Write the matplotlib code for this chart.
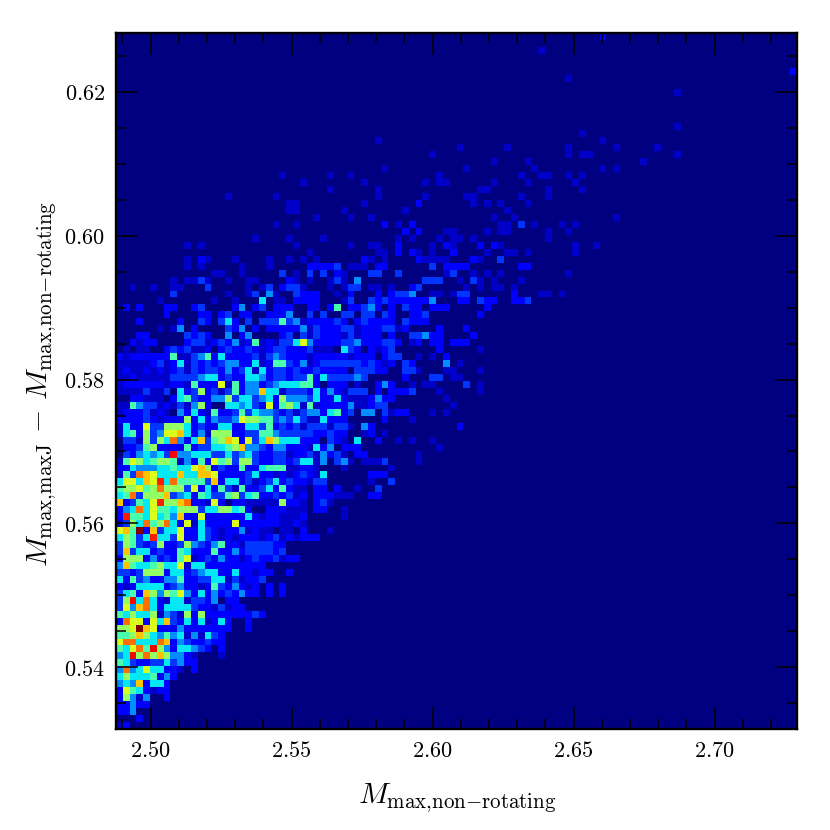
#!/usr/bin/env python3

import numpy as np
import matplotlib
matplotlib.use('Agg')
import matplotlib.pyplot as plt
from matplotlib.colors import ListedColormap
from matplotlib.ticker import MultipleLocator, FormatStrFormatter

plt.rcParams['mathtext.fontset'] = 'cm'
plt.rcParams['font.family'] = ['DejaVu Serif']

# ==============================================================================
# Levels per cell. One hex digit per cell (0 to e),
# spaces are only there to keep the columns readable
# rows_left: columns 0-27, rows_right: columns 28 and up, first entry = row 0
# ==============================================================================
rows_left = [
    "12", "0002", "224", "22422", "27414002", "28652122", "45492552",
    "575556242", "4a4585522102", "653223353422", "45c7a79744210001",
    "658a6c7425543202", "8aa555a924322322", "6679754645141532",
    "778e98 2224 2222222 00 2", "2a882859 3252 5125 2002",
    "65755714 3172 7222 2222 32", "3849a525 5553 2213 122",
    "37c5a521 5513 3240 22", "35629747 6842 5242 3242 2020 2",
    "21255552 3422 1263 2421 2020 2", "52634224 4622 3355 1312 23",
    "33237772 5523 4552 2522 1220 02", "49655675 5815 5222 2222 22",
    "27772423 2681 2324 2212 3223 122", "39355232 2652 2262 2423 3332 3",
    "37632372 2374 3246 2213 3332 2", "57635b55 3822 5321 2122 2123 1212",
    "896e2935 5822 5321 2241 2110 1102", "1375a67a 5281 5222 2822 2222 1121",
    "2b665856 4922 8222 2225 2122 1112", "245a5866 5777 3557 7562 0022 2111",
    "923658b7 79a2 2182 0221 1111 7221", "56a37779 3452 6533 6735 6223 2312",
    "677867a7 7738 2526 3162 2352 6211", "588598b5 a666 6392 5523 1235 2322",
    "163a9855 5955 9982 2223 5221 2123", "22544455 6558 9723 2262 2566 6112",
    "16875677 6142 6286 7377 3223 3235", "03245453 c445 5533 5345 3223 3122",
    "02236722 2262 3355 6794 4324 4222", "03317375 a425 9367 9828 3597 5552",
    "15627348 8952 4177 7223 3664 3333", "15228337 7752 3225 5225 5362 3231",
    "22223212 2272 5243 3487 7663 4353", "12223121 0425 2162 2363 5443 2313",
    "11643312 1314 7200 5545 3282 6751", "00221110 2563 2244 7355 3452 7444",
    "11113113 0523 7231 3624 4955 1333", "12222221 2216 2228 1624 4234 5556",
    "11211111 3333 4552 3225 5423 3233", "12112121 2313 2332 4235 1523 3232",
    "11111231 2513 2323 4422 5126 6324", "21222222 6113 4625 2222 3134 3222",
    "01011002 3231 1202 3223 2123 3222", "00212200 0023 3123 2412 6121 3358",
    "00022000 0032 3200 4024 0000 2303", "00000010 1402 0000 3240 2022 2224",
    "00020000 0200 3203 5203 0333 6341", "00000002 0000 2202 3022 0022 2400",
    "02020002 2002 3000 0240 2302 2200",
]
rows_right = [
    "", "", "", "", "", "", "", "", "", "", "", "", "", "", "", "", "", "",
    "", "", "", "", "", "", "", "", "",
    "22", "0001", "", "000001", "022001", "0231", "0222111 00 22",
    "0220 2 00 1 00 3", "133 000000 1 00 3", "215 000000 222",
    "21 000 1 000000 1", "514 0 341 0 1113 0000 1", "314231 0 22 0000000 1",
    "1524 0 222 00000000000 1", "22 0 321 0 5 00 2 00 1 0 1 00 1",
    "322322 00 12 0 1", "3331331 0 42 000000000000 2", "115222 00000 2 000 1",
    "4425623 0 44 0 3122 000 1 0 1", "6122224112 33 000000000 1",
    "352252111 2422 0000000 1", "252421333 0 2 0 2223 000 1 00000 1",
    "620222 0 1 00 242 00 1 0 11 0000 3 0 1",
    "6253 333 4 3 00000 2 000 33 0 11",
    "23 2222 0 333 22 00 331 000 11 000 1",
    "12 333333 2321 2 0 32 0000 4 0 1",
    "1 22222 1 222 0 233 00 1 0 1 0 2",
    "31110 532 0 2123 000000 2 00000 1",
    "42222334 222332 0 12 0 22 0 222",
    "13222131 22202 00 33422 0000 2",
    "132223312223312 0000 2 000 2",
    "222232023222203222", "30300330330320022300000002",
    "220260223420203220222000002",
]

# Upper part of the cloud, isolated cells only: row, columns and levels
top_rows = [61, 62, 63, 64, 65, 66, 67, 68, 69, 70, 71, 72, 73, 74, 75, 76, 77,
            78, 79, 80, 81, 82, 83, 84, 85, 86, 91, 93, 94, 97, 99]
top_cols = [
    [6, 14, 17, 21, 23, 24, 26, 27, 28, 29, 33, 34, 37, 38, 39, 40, 41, 42, 43,
     44, 45, 46, 50, 51, 53, 54, 55, 58, 59, 60],
    [8, 16, 19, 20, 22, 23, 26, 27, 28, 29, 32, 34, 38, 40, 41, 42, 43, 46, 47,
     49, 50, 51, 58, 62, 63, 65],
    [2, 5, 8, 9, 13, 19, 21, 22, 24, 25, 26, 27, 31, 33, 34, 35, 37, 38, 40, 43,
     44, 51, 53, 55, 56, 58],
    [8, 10, 11, 12, 13, 16, 19, 20, 25, 26, 28, 31, 32, 33, 35, 45, 46, 47, 50,
     52, 53, 55, 59],
    [14, 15, 18, 24, 26, 28, 30, 32, 33, 37, 38, 41, 48, 49, 52, 54, 56, 66],
    [10, 12, 18, 22, 28, 29, 30, 31, 32, 34, 35, 36, 38, 39, 46, 48, 49, 50, 51,
     59, 60],
    [10, 12, 13, 17, 22, 25, 27, 29, 36, 37, 39, 44, 45, 46, 47, 48, 52, 53, 56],
    [28, 38, 39, 41, 43, 44, 46, 49, 54, 57, 58, 60, 67],
    [10, 12, 26, 34, 37, 38, 41, 46, 48, 49, 53, 55, 56, 67, 70],
    [20, 25, 30, 41, 43, 47, 49, 50, 52, 63],
    [42, 44, 48, 49, 54, 56, 57, 63, 66],
    [23, 26, 39, 41, 43, 56, 57, 59, 61, 65, 67],
    [29, 34, 37, 55, 58, 73],
    [25, 26, 33, 42, 57],
    [25, 26, 36, 44, 52, 54, 56, 60],
    [16, 23, 38, 45, 51, 52, 59, 63],
    [31, 38, 53, 54, 63, 68],
    [27, 36, 45, 47, 48, 55, 60, 67],
    [24, 31, 34, 47, 59, 62, 63, 66, 68],
    [39, 51, 61, 71, 73],
    [55, 60, 77],
    [46, 66, 68, 69, 82],
    [50, 57, 66, 73, 79],
    [38, 71], [68], [82], [82], [66], [99], [62], [71],
]
top_vals = [
    [1, 1, 1, 5, 1, 1, 2, 2, 2, 2, 1, 3, 3, 2, 3, 2, 2, 2, 2, 2, 2, 4, 2, 2, 3,
     2, 2, 2, 2, 3],
    [3, 1, 1, 3, 4, 1, 3, 2, 2, 2, 1, 2, 2, 2, 3, 3, 4, 1, 1, 1, 3, 3, 2, 1, 1, 1],
    [1, 1, 1, 1, 3, 1, 1, 3, 2, 3, 3, 1, 1, 1, 3, 3, 1, 1, 1, 2, 3, 1, 1, 1, 1, 1],
    [1, 1, 1, 3, 1, 1, 1, 1, 2, 1, 1, 1, 3, 1, 4, 3, 3, 3, 1, 3, 1, 1, 1],
    [1, 1, 1, 3, 1, 3, 3, 2, 1, 3, 3, 3, 1, 3, 1, 1, 1, 1],
    [1, 1, 1, 1, 2, 2, 2, 2, 3, 1, 1, 1, 2, 2, 3, 2, 2, 2, 2, 2, 2],
    [1, 2, 1, 1, 1, 1, 1, 1, 2, 1, 1, 2, 1, 1, 1, 1, 2, 1, 3],
    [1, 1, 1, 2, 2, 1, 1, 2, 1, 1, 1, 1, 1],
    [1, 1, 1, 1, 1, 1, 2, 1, 2, 1, 2, 2, 1, 1, 1],
    [1, 1, 1, 1, 1, 1, 1, 1, 1, 1],
    [2, 2, 1, 1, 1, 1, 1, 1, 1],
    [1, 1, 2, 1, 2, 1, 1, 3, 1, 1, 1],
    [1, 1, 1, 1, 1, 1],
    [1, 1, 1, 1, 1],
    [1, 1, 1, 2, 1, 1, 1, 1],
    [1, 1, 1, 1, 1, 1, 1, 1],
    [1, 1, 1, 1, 1, 1],
    [1, 1, 1, 1, 1, 1, 1, 1],
    [1, 1, 1, 1, 1, 1, 1, 1, 1],
    [1, 1, 1, 1, 1],
    [1, 1, 1],
    [1, 1, 1, 1, 1],
    [1, 1, 1, 1, 1],
    [1, 1], [1], [1], [1], [1], [2], [1], [2],
]

xmin, xmax = 2.4877, 2.7292
ymin, ymax = 0.5314, 0.6282
nbins = 100

# Where each level (0 to e) falls on the jet scale
level_pos = [0., .065, .11, .176, .264, .352, .44, .528, .616, .70, .79, .88,
             .90, .95, 1.]

# ==============================================================================
# Filling the histogram
# ==============================================================================
counts = np.zeros((nbins, nbins))

for k in range(0, len(rows_left)):
    fila = rows_left[k].replace(' ', '').ljust(28, '0')
    fila = fila + rows_right[k].replace(' ', '')
    for c in range(0, len(fila)):
        counts[k, c] = int(fila[c], 16)

for i in range(0, len(top_rows)):
    for c, n in zip(top_cols[i], top_vals[i]):
        counts[top_rows[i], c] = n

xedges = np.linspace(xmin, xmax, nbins + 1)
yedges = np.linspace(ymin, ymax, nbins + 1)

niveles = ListedColormap(plt.cm.jet(level_pos))

# ==============================================================================
# Plot
# ==============================================================================
fig = plt.figure(figsize=(8.3, 8.3), dpi=100)
ax = fig.add_axes([116 / 830, 101 / 830, 681 / 830, 696 / 830])

ax.pcolormesh(xedges, yedges, counts, cmap=niveles, vmin=-0.5,
              vmax=len(level_pos) - 0.5, antialiased=False, linewidth=0)
ax.set_xlim(xmin, xmax)
ax.set_ylim(ymin, ymax)

ax.xaxis.set_major_locator(MultipleLocator(0.05))
ax.xaxis.set_minor_locator(MultipleLocator(0.01))
ax.yaxis.set_major_locator(MultipleLocator(0.02))
ax.yaxis.set_minor_locator(MultipleLocator(0.005))
ax.xaxis.set_major_formatter(FormatStrFormatter(r'$%.2f$'))
ax.yaxis.set_major_formatter(FormatStrFormatter(r'$%.2f$'))

ax.tick_params(which='major', direction='in', top=True, right=True,
               length=16, width=1.1, labelsize=16, pad=8)
ax.tick_params(which='minor', direction='in', top=True, right=True,
               length=7, width=1.1)

for lado in ax.spines.values():
    lado.set_linewidth(1.7)

sub_nr = r'\mathrm{max}{,}\mathrm{non}{-}\mathrm{rotating}'
sub_j = r'\mathrm{max}{,}\mathrm{maxJ}'
fig.text(457 / 830, 1 - 798 / 830, r'$M_{' + sub_nr + '}$', fontsize=21.5,
         ha='center', va='center')
fig.text(42 / 830, 1 - 384 / 830, r'$M_{' + sub_j + r'}\,-\,M_{' + sub_nr + '}$',
         fontsize=21.5, rotation=90, ha='center', va='center')

plt.savefig('out.png', dpi=100)
